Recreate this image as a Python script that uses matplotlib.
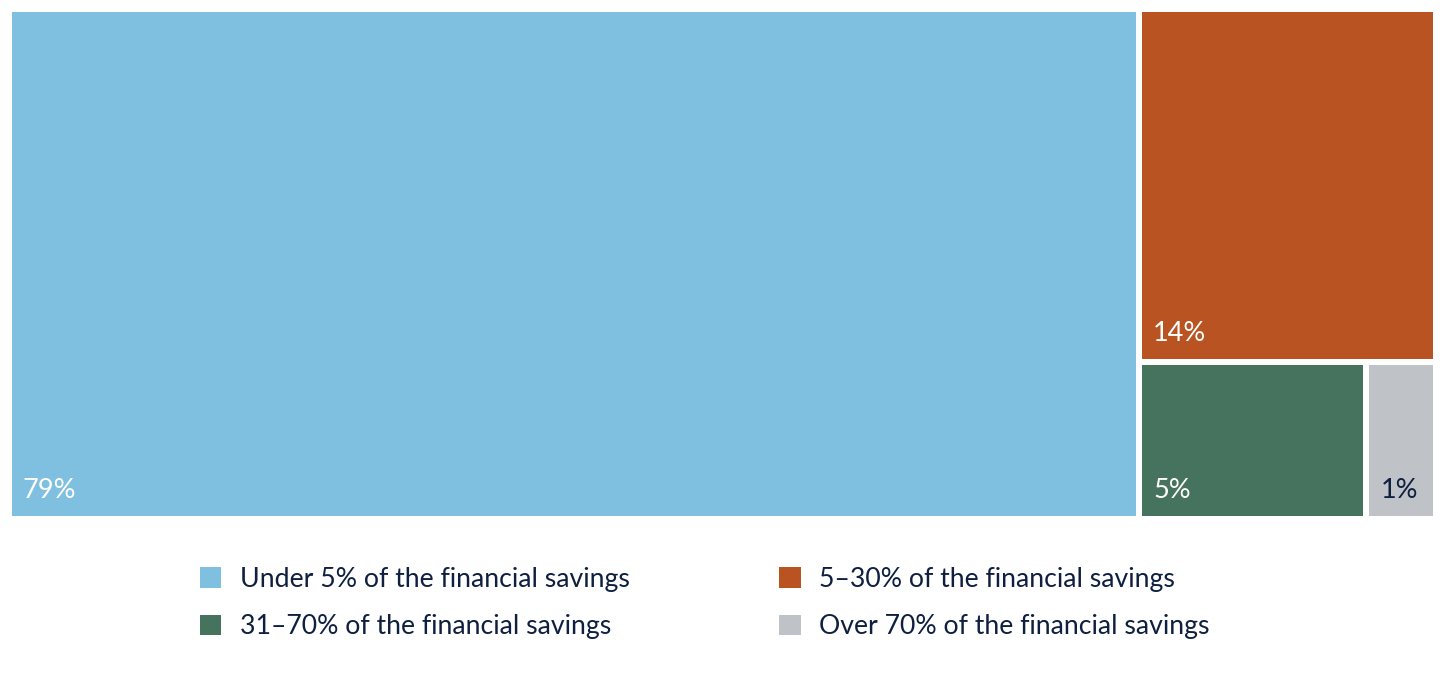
import matplotlib
matplotlib.use("Agg")
import matplotlib.pyplot as plt
from matplotlib.patches import Rectangle, Patch

# Data (shares in %, estimated from the areas)
categories = ["Under 5% of the financial savings", "5\u201330% of the financial savings",
              "31\u201370% of the financial savings", "Over 70% of the financial savings"]
values = [79.2, 14.4, 4.9, 1.5]
labels = ["79%", "14%", "5%", "1%"]
colors = ["#7fbfe0", "#b95321", "#45735e", "#bfc2c6"]
label_colors = ["white", "white", "white", "#0e1f40"]

plt.rcParams['font.family'] = ['Lato', 'DejaVu Sans']
W, H = 1427.0, 510.0
gap = 6.0

fig = plt.figure(figsize=(14.45, 6.85), dpi=100)
ax = fig.add_axes([9/1445, (685-519)/685, W/1445, H/685])
ax.set_xlim(0, W)
ax.set_ylim(0, H)
ax.axis('off')

total = sum(values)
x_split = W * values[0] / total
rest = sum(values[1:])
y_split = H * (1 - values[1] / rest)
bottom = values[2] + values[3]
x_split2 = x_split + (W - x_split) * values[2] / bottom

rects = [
    (0, 0, x_split, H),
    (x_split, y_split, W, H),
    (x_split, 0, x_split2, y_split),
    (x_split2, 0, W, y_split),
]
for (x0, y0, x1, y1), c, lab, lc in zip(rects, colors, labels, label_colors):
    g = gap / 2
    ax.add_patch(Rectangle((x0 + g, y0 + g), (x1 - x0) - gap, (y1 - y0) - gap,
                           facecolor=c, edgecolor='none'))
    ax.text(x0 + g + 11, y0 + g + 18, lab, color=lc, fontsize=19.5,
            ha='left', va='baseline')

handles = [Patch(facecolor=c, edgecolor='none') for c in colors]
order = [0, 2, 1, 3]
leg = fig.legend([handles[i] for i in order], [categories[i] for i in order],
                 loc='center', bbox_to_anchor=(705/1445, (685-603)/685), ncol=2, frameon=False,
                 fontsize=19.2, handlelength=0.8, handleheight=0.8, handletextpad=0.7,
                 columnspacing=5.6, labelspacing=0.85, labelcolor='#0e1f40')

fig.savefig("out.png", dpi=100, facecolor='white')
